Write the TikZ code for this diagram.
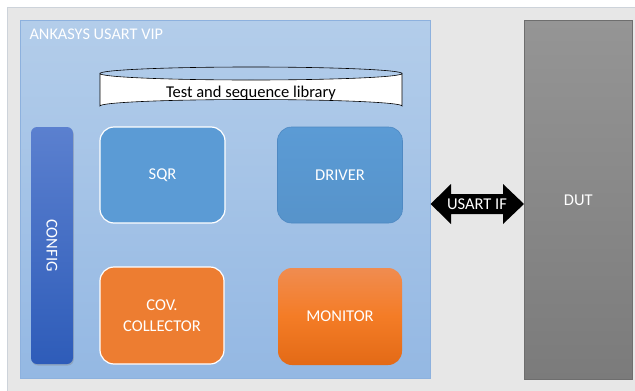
\documentclass[tikz,border=0pt]{standalone}
\usepackage{fontspec}
\setmainfont{Carlito}
\usetikzlibrary{shadows}
\definecolor{bggray}{HTML}{E7E7E7}
\definecolor{bgline}{HTML}{CDD3DA}
\definecolor{viptop}{HTML}{B3CDEA}
\definecolor{vipbot}{HTML}{94B8E3}
\definecolor{vipline}{HTML}{8DB1DE}
\definecolor{cfgtop}{HTML}{5B80CF}
\definecolor{cfgbot}{HTML}{2E5CB9}
\definecolor{blubox}{HTML}{5B9BD5}
\definecolor{bluline}{HTML}{4E89C3}
\definecolor{orabox}{HTML}{ED7D31}
\definecolor{oratop}{HTML}{F08C50}
\definecolor{oramid}{HTML}{F47C26}
\definecolor{orabot}{HTML}{E36A16}
\definecolor{duttop}{HTML}{959595}
\definecolor{dutbot}{HTML}{7B7B7B}
\definecolor{dutline}{HTML}{6E6E6E}
\tikzset{
  lbl/.style={font=\fontsize{16.5}{20.5}\selectfont, text=white, align=center},
  blk/.style={rounded corners=14pt, minimum width=125pt, minimum height=96pt, inner sep=0pt, line width=1.2pt},
}
\begin{document}
\begin{tikzpicture}[x=1pt,y=-1pt]
\useasboundingbox (0,0) rectangle (635,391);
\fill[white] (0,0) rectangle (635,391);
\node[draw=bgline, fill=bggray, anchor=north west, minimum width=629pt, minimum height=385pt, inner sep=0pt, line width=0.8pt] (bg) at (7,7) {};
% VIP container
\node[draw=vipline, line width=0.6pt, top color=viptop, bottom color=vipbot, anchor=north west, minimum width=410pt, minimum height=358pt, inner sep=0pt] (vip) at (20,20) {};
\node[lbl, anchor=west, font=\fontsize{16.3}{19}\selectfont] (title) at (26,34) {ANKASYS USART VIP};
% library cylinder
\filldraw[fill=white, draw=black, line width=0.6pt]
  (100,73.5) -- (100,106) arc[start angle=180, end angle=360, x radius=151, y radius=6.5]
  -- (402,73.5) arc[start angle=0, end angle=180, x radius=151, y radius=6.5] -- cycle;
\draw[line width=0.6pt] (100,73.5) arc[start angle=180, end angle=360, x radius=151, y radius=6.5];
\node[font=\fontsize{16.5}{20}\selectfont] (lib) at (251,93.5) {Test and sequence library};
% CONFIG
\node[rounded corners=6pt, top color=cfgtop, bottom color=cfgbot, minimum width=42pt, minimum height=237pt, inner sep=0pt,
      drop shadow={shadow xshift=0.8pt, shadow yshift=-1.5pt, opacity=0.35}] (config) at (52,245.5) {};
\node[lbl, rotate=-90] (configtxt) at (config.center) {CONFIG};
% blocks
\node[blk, fill=blubox, draw=white] (sqr) at (162.5,175) {};
\node[lbl] at (sqr.center) {SQR};
\node[blk, top color=blubox, bottom color=blubox!95!black, draw=bluline, line width=0.6pt] (driver) at (340,175) {};
\node[lbl] at (driver.center) {DRIVER};
\node[blk, fill=orabox, draw=white, minimum height=97pt, minimum width=124pt] (cov) at (162,315.5) {};
\node[lbl] at (cov.center) {COV.\\COLLECTOR};
\node[blk, top color=oratop, bottom color=orabot, middle color=oramid, draw=none, minimum height=97pt, minimum width=124pt] (mon) at (340,316.5) {};
\node[lbl] at (mon.center) {MONITOR};
% DUT
\node[draw=dutline, line width=0.6pt, top color=duttop, bottom color=dutbot, anchor=north west, minimum width=108pt, minimum height=359pt, inner sep=0pt] (dut) at (524,20) {};
\node[lbl] at (dut.center) {DUT};
% USART IF double arrow
\fill[black] (vip.east |- 0,204) -- (451,184) -- (451,194) -- (503,194) -- (503,184) -- (dut.west |- 0,204)
  -- (503,224) -- (503,214) -- (451,214) -- (451,224) -- cycle;
\node[lbl] (usartif) at (477,204) {USART IF};
\end{tikzpicture}
\end{document}
